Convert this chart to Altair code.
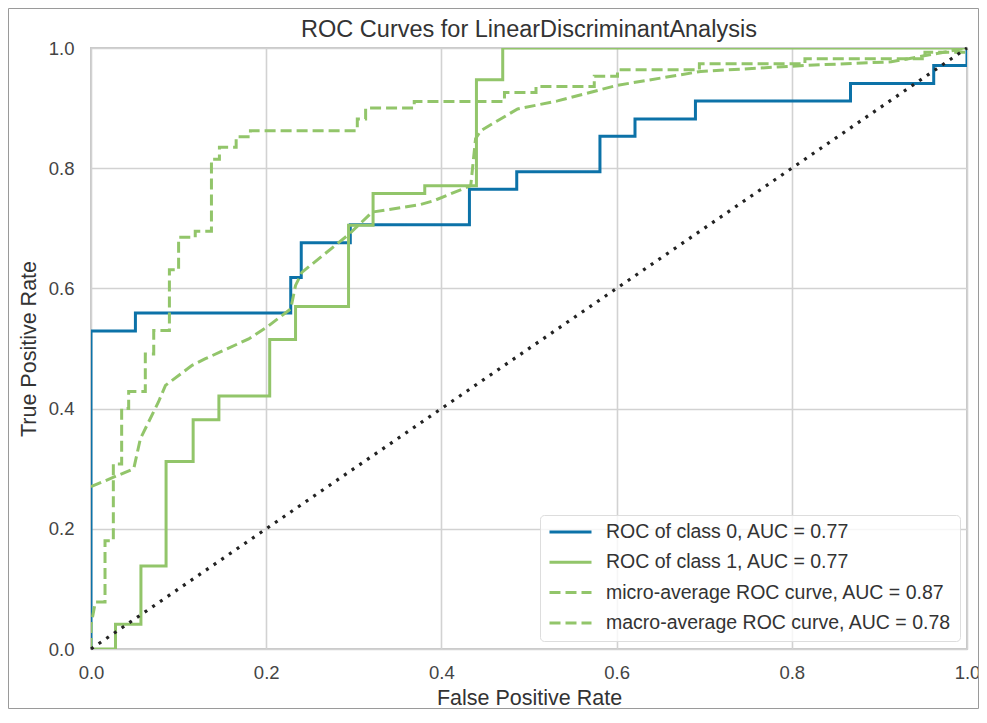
import altair as alt
import pandas as pd

# ---------------- data ----------------
series_names = [
    "ROC of class 0, AUC = 0.77",
    "ROC of class 1, AUC = 0.77",
    "micro-average ROC curve, AUC = 0.87",
    "macro-average ROC curve, AUC = 0.78",
]
series_colors = ["#0C72A8", "#92C56A", "#92C56A", "#92C56A"]

class0_fpr = [0.0, 0.0, 0.0507, 0.0507, 0.228, 0.228, 0.240, 0.240, 0.296, 0.296,
              0.432, 0.432, 0.486, 0.486, 0.581, 0.581, 0.621, 0.621, 0.690, 0.690,
              0.867, 0.867, 0.962, 0.962, 1.0, 1.0]
class0_tpr = [0.0, 0.529, 0.529, 0.559, 0.559, 0.618, 0.618, 0.676, 0.676, 0.706,
              0.706, 0.765, 0.765, 0.794, 0.794, 0.853, 0.853, 0.882, 0.882, 0.912,
              0.912, 0.941, 0.941, 0.971, 0.971, 1.0]

class1_fpr = [0.0, 0.028, 0.028, 0.057, 0.057, 0.0857, 0.0857, 0.1166, 0.1166, 0.146,
              0.146, 0.204, 0.204, 0.2335, 0.2335, 0.294, 0.294, 0.322, 0.322, 0.381,
              0.381, 0.440, 0.440, 0.470, 0.470, 1.0]
class1_tpr = [0.0, 0.0, 0.041, 0.041, 0.138, 0.138, 0.312, 0.312, 0.3815, 0.3815,
              0.421, 0.421, 0.515, 0.515, 0.570, 0.570, 0.705, 0.705, 0.758, 0.758,
              0.771, 0.771, 0.947, 0.947, 1.0, 1.0]

micro_fpr = [0.0, 0.0, 0.005, 0.016, 0.016, 0.0255, 0.0255, 0.035, 0.035, 0.043,
             0.043, 0.062, 0.062, 0.0716, 0.0716, 0.0895, 0.0895, 0.100, 0.100, 0.119,
             0.119, 0.1375, 0.1375, 0.1466, 0.1466, 0.1657, 0.1657, 0.182, 0.182, 0.304,
             0.304, 0.3135, 0.3135, 0.369, 0.369, 0.472, 0.472, 0.508, 0.508, 0.5745,
             0.5745, 0.601, 0.601, 0.6945, 0.6945, 0.815, 0.815, 0.952, 0.952, 1.0, 1.0]
micro_tpr = [0.0, 0.04, 0.078, 0.078, 0.180, 0.180, 0.308, 0.308, 0.400, 0.400,
             0.4286, 0.4286, 0.491, 0.491, 0.530, 0.530, 0.631, 0.631, 0.685, 0.685,
             0.695, 0.695, 0.815, 0.815, 0.835, 0.835, 0.8525, 0.8525, 0.8625, 0.8625,
             0.882, 0.882, 0.900, 0.900, 0.911, 0.911, 0.926, 0.926, 0.936, 0.936,
             0.953, 0.953, 0.964, 0.964, 0.974, 0.974, 0.982, 0.982, 0.993, 0.993, 1.0]

macro_fpr = [0.0, 0.0488, 0.0564, 0.077, 0.085, 0.1154, 0.1306, 0.180, 0.203, 0.228,
             0.2335, 0.241, 0.2945, 0.321, 0.376, 0.3916, 0.4335, 0.439, 0.445, 0.487,
             0.5326, 0.601, 0.696, 0.815, 0.9135, 1.0]
macro_tpr = [0.270, 0.300, 0.350, 0.411, 0.4386, 0.472, 0.483, 0.516, 0.538, 0.566,
             0.605, 0.627, 0.690, 0.727, 0.7395, 0.746, 0.771, 0.849, 0.8625, 0.8986,
             0.912, 0.938, 0.961, 0.971, 0.977, 1.0]

chance_fpr = [0.0, 1.0]
chance_tpr = [0.0, 1.0]

tick_values = [0.0, 0.2, 0.4, 0.6, 0.8, 1.0]

# ---------------- build table ----------------
rows = []
for name, xs, ys in zip(series_names,
                        [class0_fpr, class1_fpr, micro_fpr, macro_fpr],
                        [class0_tpr, class1_tpr, micro_tpr, macro_tpr]):
    for i, (a, b) in enumerate(zip(xs, ys)):
        rows.append({"series": name, "fpr": a, "tpr": b, "order": i})
df = pd.DataFrame(rows)
diag = pd.DataFrame({"fpr": chance_fpr, "tpr": chance_tpr})

FONT = "Liberation Sans"

x_enc = alt.X(
    "fpr:Q",
    scale=alt.Scale(domain=[0, 1], nice=False, zero=False),
    axis=alt.Axis(values=tick_values, format=".1f", title="False Positive Rate",
                  labelPadding=14, titlePadding=6),
)
y_enc = alt.Y(
    "tpr:Q",
    scale=alt.Scale(domain=[0, 1], nice=False, zero=False),
    axis=alt.Axis(values=tick_values, format=".1f", title="True Positive Rate",
                  labelPadding=17, titlePadding=8),
)

legend = alt.Legend(
    orient="none", legendX=449, legendY=467, title=None,
    symbolType="stroke", symbolSize=1764, symbolStrokeWidth=3,
    clipHeight=18, rowPadding=10.3, padding=8,
    labelFont=FONT, labelFontSize=19.5, labelColor="#333333",
    labelOffset=13, labelLimit=600,
    fillColor="rgba(255,255,255,0.8)", strokeColor="#dddddd", cornerRadius=4,
)

lines = alt.Chart(df).mark_line(strokeWidth=3, clip=True).encode(
    x=x_enc,
    y=y_enc,
    order="order:Q",
    color=alt.Color("series:N",
                    scale=alt.Scale(domain=series_names, range=series_colors),
                    legend=legend),
    strokeDash=alt.StrokeDash("series:N",
                              scale=alt.Scale(domain=series_names,
                                              range=[[1, 0], [1, 0], [11, 5], [11, 5]]),
                              legend=legend),
)

chance = alt.Chart(diag).mark_line(color="#222222", strokeWidth=3.2,
                                   strokeDash=[3, 6.3], clip=False).encode(
    x="fpr:Q", y="tpr:Q"
)

frame = alt.Chart(pd.DataFrame({"k": [0]})).mark_rect(
    fillOpacity=0, stroke="#9a9a9a", strokeWidth=1, clip=False
).encode(
    x=alt.value(-82.5), x2=alt.value(887.5),
    y=alt.value(-39.5), y2=alt.value(660.5),
)

chart = alt.layer(frame, lines, chance).properties(
    width=876,
    height=601,
    background="white",
    autosize=alt.AutoSizeParams(type="none"),
    padding={"left": 83, "top": 40, "right": 12, "bottom": 60},
    title=alt.TitleParams(
        "ROC Curves for LinearDiscriminantAnalysis",
        font=FONT, fontSize=23.5, fontWeight="normal", color="#333333",
        anchor="middle", frame="group", offset=-52, baseline="alphabetic",
    ),
).configure_view(
    stroke="#c8c8c8", strokeWidth=2
).configure_axis(
    grid=True, gridColor="#d2d2d2", gridWidth=1.6,
    domain=False, ticks=False, labelFlush=False,
    labelFont=FONT, labelFontSize=18.5, labelColor="#444444",
    titleFont=FONT, titleFontSize=21.5, titleColor="#333333", titleFontWeight="normal",
)

chart.save("out.html", embed_options={"renderer": "svg", "actions": False})
